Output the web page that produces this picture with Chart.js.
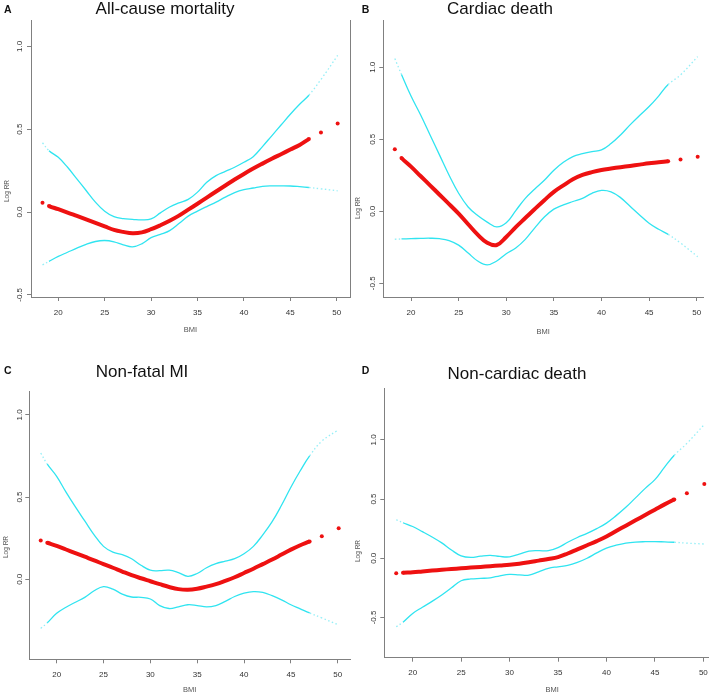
<!DOCTYPE html>
<html>
<head>
<meta charset="utf-8">
<script src="https://cdn.jsdelivr.net/npm/chart.js@4"></script>
<style>
body { margin: 0; width: 709px; height: 694px; overflow: hidden; background: #fff; position: relative; font-family: "Liberation Sans", Arial, sans-serif; }
canvas { position: absolute; left: 0; top: 0; }
.ttl { position: absolute; font-size: 17px; line-height: 17px; color: #111; white-space: nowrap; transform: translateX(-50%); }
.let { position: absolute; font-size: 10.5px; line-height: 10px; font-weight: bold; color: #111; }
.ylab { position: absolute; font-size: 6.5px; color: #555; white-space: nowrap; transform: translate(-50%, -50%) rotate(-90deg); }
</style>
</head>
<body>
<canvas id="cA" width="740" height="720"></canvas>
<canvas id="cB" width="740" height="720"></canvas>
<canvas id="cC" width="740" height="720"></canvas>
<canvas id="cD" width="740" height="720"></canvas>

<div class="let" style="left:4px;top:3.8px">A</div>
<div class="let" style="left:361.7px;top:4.2px">B</div>
<div class="let" style="left:4px;top:364.5px">C</div>
<div class="let" style="left:361.7px;top:364.5px">D</div>
<div class="ttl" style="left:165px;top:-0.4px">All-cause mortality</div>
<div class="ttl" style="left:500px;top:0.1px">Cardiac death</div>
<div class="ttl" style="left:142px;top:362.8px">Non-fatal MI</div>
<div class="ttl" style="left:517px;top:364.5px">Non-cardiac death</div>
<div class="ylab" style="left:6px;top:191px">Log RR</div>
<div class="ylab" style="left:357px;top:208px">Log RR</div>
<div class="ylab" style="left:5px;top:547px">Log RR</div>
<div class="ylab" style="left:357px;top:551px">Log RR</div>

<script>
// BMI grid the curves were read at
var bmi = [18.3, 19, 20, 21, 22, 23, 24, 25, 26, 27, 28, 29, 30, 31, 32, 33, 34, 35, 36, 37, 38, 39, 40, 41, 42, 43, 44, 45, 46, 47, 48.3, 50.1];
var bmiTicks = [20, 25, 30, 35, 40, 45, 50];

// A - all-cause mortality
var fitA = [0.056, 0.036, 0.017, -0.003, -0.024, -0.045, -0.066, -0.087, -0.108, -0.12, -0.128, -0.123, -0.104, -0.08, -0.053, -0.022, 0.014, 0.05, 0.087, 0.124, 0.16, 0.196, 0.23, 0.262, 0.292, 0.321, 0.349, 0.377, 0.405, 0.44, 0.48, 0.535];
var upA = [0.418, 0.37, 0.33, 0.27, 0.2, 0.13, 0.06, 0.005, -0.028, -0.04, -0.044, -0.048, -0.042, -0.005, 0.03, 0.055, 0.076, 0.12, 0.18, 0.22, 0.245, 0.27, 0.3, 0.334, 0.395, 0.46, 0.525, 0.59, 0.65, 0.705, 0.8, 0.945];
var lowA = [-0.319, -0.298, -0.268, -0.243, -0.218, -0.195, -0.178, -0.172, -0.18, -0.198, -0.21, -0.192, -0.155, -0.135, -0.112, -0.07, -0.025, 0.005, 0.033, 0.06, 0.09, 0.117, 0.135, 0.145, 0.155, 0.158, 0.158, 0.157, 0.153, 0.148, 0.14, 0.128];

// B - cardiac death
var fitB = [0.43, 0.37, 0.31, 0.245, 0.18, 0.115, 0.05, -0.016, -0.09, -0.162, -0.218, -0.234, -0.178, -0.11, -0.047, 0.016, 0.077, 0.135, 0.18, 0.222, 0.252, 0.272, 0.287, 0.297, 0.306, 0.315, 0.324, 0.333, 0.34, 0.348, 0.36, 0.378];
var upB = [1.06, 0.95, 0.8, 0.67, 0.53, 0.39, 0.25, 0.125, 0.03, -0.03, -0.075, -0.108, -0.08, 0.005, 0.09, 0.155, 0.215, 0.285, 0.34, 0.38, 0.4, 0.415, 0.426, 0.47, 0.53, 0.6, 0.665, 0.727, 0.8, 0.88, 0.947, 1.074];
var lowB = [-0.194, -0.192, -0.19, -0.188, -0.187, -0.19, -0.203, -0.235, -0.29, -0.345, -0.372, -0.345, -0.295, -0.255, -0.195, -0.115, -0.04, 0.015, 0.045, 0.068, 0.09, 0.125, 0.145, 0.135, 0.095, 0.035, -0.025, -0.083, -0.125, -0.16, -0.22, -0.315];

// C - non-fatal MI
var fitC = [0.236, 0.222, 0.203, 0.181, 0.159, 0.137, 0.115, 0.092, 0.07, 0.047, 0.025, 0.006, -0.012, -0.03, -0.047, -0.06, -0.064, -0.058, -0.045, -0.03, -0.01, 0.012, 0.038, 0.064, 0.092, 0.12, 0.15, 0.18, 0.207, 0.23, 0.262, 0.311];
var upC = [0.768, 0.7, 0.626, 0.53, 0.44, 0.355, 0.27, 0.2, 0.165, 0.15, 0.125, 0.085, 0.055, 0.052, 0.055, 0.04, 0.018, 0.035, 0.07, 0.095, 0.11, 0.125, 0.155, 0.2, 0.27, 0.35, 0.45, 0.56, 0.66, 0.75, 0.84, 0.91];
var lowC = [-0.299, -0.265, -0.207, -0.17, -0.14, -0.11, -0.07, -0.045, -0.06, -0.09, -0.108, -0.11, -0.12, -0.16, -0.178, -0.168, -0.155, -0.16, -0.168, -0.16, -0.135, -0.105, -0.085, -0.075, -0.08, -0.1, -0.125, -0.155, -0.18, -0.205, -0.235, -0.278];

// D - non-cardiac death
var fitD = [-0.127, -0.122, -0.118, -0.111, -0.104, -0.097, -0.091, -0.085, -0.079, -0.073, -0.067, -0.061, -0.055, -0.046, -0.034, -0.02, -0.006, 0.01, 0.04, 0.075, 0.11, 0.145, 0.184, 0.23, 0.275, 0.32, 0.365, 0.41, 0.455, 0.497, 0.55, 0.627];
var upD = [0.325, 0.3, 0.268, 0.225, 0.18, 0.13, 0.07, 0.02, 0.007, 0.018, 0.025, 0.015, 0.012, 0.035, 0.06, 0.064, 0.064, 0.09, 0.135, 0.175, 0.21, 0.25, 0.297, 0.36, 0.43, 0.51, 0.59, 0.664, 0.77, 0.87, 0.97, 1.13];
var lowD = [-0.579, -0.54, -0.466, -0.414, -0.364, -0.31, -0.25, -0.19, -0.175, -0.17, -0.165, -0.148, -0.136, -0.14, -0.143, -0.115, -0.085, -0.072, -0.06, -0.035, 0.0, 0.045, 0.085, 0.11, 0.128, 0.137, 0.14, 0.141, 0.138, 0.135, 0.128, 0.12];

var yTicksA = [-0.5, 0, 0.5, 1];
var yTicksB = [-0.5, 0, 0.5, 1];
var yTicksC = [0, 0.5, 1];
var yTicksD = [-0.5, 0, 0.5, 1];

Chart.defaults.font.family = '"Liberation Sans", Arial, sans-serif';

var CW = 740, CH = 720, YW = 20;
var axisCol = '#808080', tickCol = '#333';
var red = '#ee1111', cyan = '#30e4f0', cyanEnd = 'rgba(60,225,240,0.55)';

function dense(c) {
	return c.p0.parsed.x >= 19 && c.p1.parsed.x <= 47;
}

function curve(vals, isFit) {
	return {
		data: bmi.map(function (x, i) { return {x: x, y: vals[i]}; }),
		borderColor: isFit ? red : cyan,
		borderWidth: isFit ? 4 : 1.3,
		tension: 0.4,
		pointRadius: function (ctx) {
			var x = bmi[ctx.dataIndex];
			return (isFit && (x < 19.5 || x > 46.5)) ? 2 : 0;
		},
		pointBackgroundColor: red,
		pointBorderWidth: 0,
		segment: {
			borderColor: function (c) { return dense(c) ? undefined : (isFit ? 'rgba(0,0,0,0)' : cyanEnd); },
			borderDash: function (c) { return dense(c) ? undefined : [1.5, 2.5]; }
		}
	};
}

function panel(id, g, yTicks, fit, up, low) {
	var xh = g.bmiY - g.bottom + 4.5;
	var plugins = [];
	if (g.boxRight) {
		plugins.push({
			id: 'rightEdge',
			afterDraw: function (chart) {
				var a = chart.chartArea, ctx = chart.ctx;
				var xr = Math.round(a.right) + 0.5;
				ctx.save();
				ctx.strokeStyle = axisCol;
				ctx.lineWidth = 1;
				ctx.beginPath();
				ctx.moveTo(xr, a.top);
				ctx.lineTo(xr, a.bottom);
				ctx.stroke();
				ctx.restore();
			}
		});
	}
	new Chart(document.getElementById(id), {
		type: 'line',
		data: { datasets: [curve(fit, true), curve(up, false), curve(low, false)] },
		options: {
			responsive: false,
			animation: false,
			layout: {
				autoPadding: false,
				padding: { left: g.left - YW, top: g.top, right: CW - g.right, bottom: CH - g.bottom - xh }
			},
			plugins: { legend: { display: false }, tooltip: { enabled: false }, title: { display: false } },
			scales: {
				x: {
					type: 'linear', min: g.x0, max: g.x1,
					afterBuildTicks: function (s) { s.ticks = bmiTicks.map(function (v) { return {value: v}; }); },
					afterFit: function (s) { s.height = xh; },
					grid: { drawOnChartArea: false, tickLength: 4, color: axisCol },
					border: { color: axisCol },
					ticks: { padding: 6.5, color: tickCol, font: { size: 8 }, maxRotation: 0, autoSkip: false },
					title: { display: true, text: 'BMI', padding: 0, color: '#555', font: { size: 7.5 } }
				},
				y: {
					type: 'linear', min: g.y0, max: g.y1,
					afterBuildTicks: function (s) { s.ticks = yTicks.map(function (v) { return {value: v}; }); },
					afterFit: function (s) { s.width = YW; },
					grid: { drawOnChartArea: false, tickLength: 4, color: axisCol },
					border: { color: axisCol },
					ticks: {
						padding: 0, color: tickCol, font: { size: 8 },
						minRotation: 90, maxRotation: 90, crossAlign: 'center', autoSkip: false,
						callback: function (v) { return v.toFixed(1); }
					}
				}
			}
		},
		plugins: plugins
	});
}

panel('cA', { left: 31, right: 350, top: 20, bottom: 297, x0: 17.06, x1: 51.43, y0: -0.513, y1: 1.159, bmiY: 330, boxRight: true }, yTicksA, fitA, upA, lowA);
panel('cB', { left: 383.3, right: 703, top: 20, bottom: 297, x0: 17.09, x1: 50.66, y0: -0.595, y1: 1.328, bmiY: 331.7 }, yTicksB, fitB, upB, lowB);
panel('cC', { left: 29.3, right: 350, top: 391.7, bottom: 659.3, x0: 17.08, x1: 51.31, y0: -0.487, y1: 1.141, bmiY: 690 }, yTicksC, fitC, upC, lowC);
panel('cD', { left: 384.3, right: 720, top: 388, bottom: 657.7, x0: 17.07, x1: 51.72, y0: -0.84, y1: 1.438, bmiY: 690 }, yTicksD, fitD, upD, lowD);
</script>
</body>
</html>
